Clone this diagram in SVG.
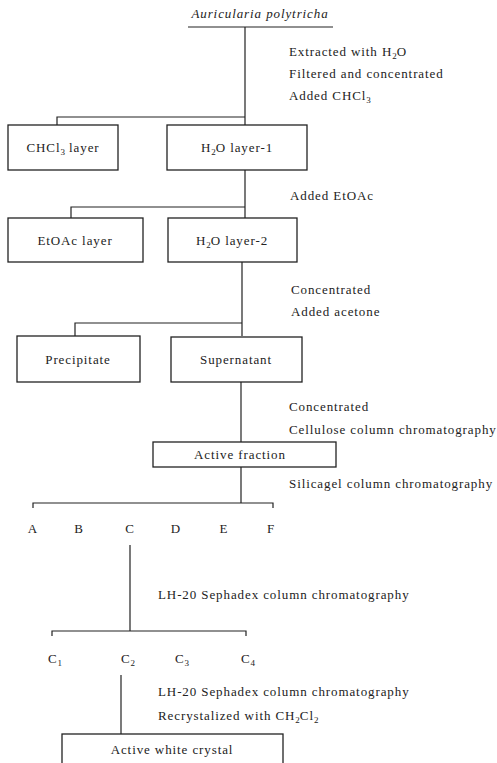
<svg xmlns="http://www.w3.org/2000/svg" width="497" height="763" viewBox="0 0 497 763">
<style>
text{font-family:"Liberation Serif","Times New Roman",serif;font-size:13px;fill:#222;letter-spacing:0.9px}
.c{text-anchor:middle}
.box{fill:none;stroke:#222;stroke-width:1.3}
.ln{fill:none;stroke:#222;stroke-width:1.2}
.sub{font-size:9px;letter-spacing:0}
</style>
<rect width="497" height="763" fill="#fff"/>
<g id="connectors">
<path class="ln" d="M188 27H333M245 27V125M245 117H57V125"/>
<path class="ln" d="M245 170V218M245 207H71V218"/>
<path class="ln" d="M242 262V336M242 323H75V336"/>
<path class="ln" d="M241 382V442"/>
<path class="ln" d="M241 467V503M33 508V503H273V508"/>
<path class="ln" d="M130 545V631M52 636V631H246V636"/>
<path class="ln" d="M121 675V734"/>
</g>
<g id="source"><text class="c" x="260" y="18" font-style="italic">Auricularia polytricha</text></g>
<g id="step1">
<text x="289" y="56">Extracted with H<tspan class="sub" dy="3">2</tspan><tspan dy="-3">O</tspan></text>
<text x="289" y="78">Filtered and concentrated</text>
<text x="289" y="100">Added CHCl<tspan class="sub" dy="3">3</tspan></text>
</g>
<g id="chcl3"><rect class="box" x="8" y="125" width="110" height="45"/><text class="c" x="63" y="152">CHCl<tspan class="sub" dy="3">3</tspan><tspan dy="-3"> layer</tspan></text></g>
<g id="h2o1"><rect class="box" x="167" y="125" width="140" height="45"/><text class="c" x="237" y="152">H<tspan class="sub" dy="3">2</tspan><tspan dy="-3">O layer-1</tspan></text></g>
<g id="step2"><text x="290" y="200">Added EtOAc</text></g>
<g id="etoac"><rect class="box" x="8" y="218" width="135" height="44"/><text class="c" x="75" y="245">EtOAc layer</text></g>
<g id="h2o2"><rect class="box" x="168" y="218" width="129" height="44"/><text class="c" x="232" y="245">H<tspan class="sub" dy="3">2</tspan><tspan dy="-3">O layer-2</tspan></text></g>
<g id="step3"><text x="291" y="294">Concentrated</text><text x="291" y="316">Added acetone</text></g>
<g id="precipitate"><rect class="box" x="17" y="336" width="123" height="46"/><text class="c" x="78" y="364">Precipitate</text></g>
<g id="supernatant"><rect class="box" x="171" y="337" width="131" height="45"/><text class="c" x="236" y="364">Supernatant</text></g>
<g id="step4"><text x="289" y="411">Concentrated</text><text x="289" y="434">Cellulose column chromatography</text></g>
<g id="active"><rect class="box" x="153" y="442" width="183" height="25"/><text class="c" x="240" y="459">Active fraction</text></g>
<g id="step5"><text x="289" y="488">Silicagel column chromatography</text></g>
<g id="fractions">
<text class="c" x="33" y="533">A</text><text class="c" x="79" y="533">B</text><text class="c" x="130" y="533">C</text>
<text class="c" x="176" y="533">D</text><text class="c" x="224" y="533">E</text><text class="c" x="271" y="533">F</text>
</g>
<g id="step6"><text x="158" y="599">LH-20 Sephadex column chromatography</text></g>
<g id="subfractions">
<text class="c" x="55" y="663">C<tspan class="sub" dy="3">1</tspan></text>
<text class="c" x="128" y="663">C<tspan class="sub" dy="3">2</tspan></text>
<text class="c" x="182" y="663">C<tspan class="sub" dy="3">3</tspan></text>
<text class="c" x="248" y="663">C<tspan class="sub" dy="3">4</tspan></text>
</g>
<g id="step7"><text x="158" y="696">LH-20 Sephadex column chromatography</text><text x="158" y="720">Recrystalized with CH<tspan class="sub" dy="3">2</tspan><tspan dy="-3">Cl</tspan><tspan class="sub" dy="3">2</tspan></text></g>
<g id="crystal"><rect class="box" x="62" y="734" width="221" height="40"/><text class="c" x="172" y="754">Active white crystal</text></g>
</svg>
